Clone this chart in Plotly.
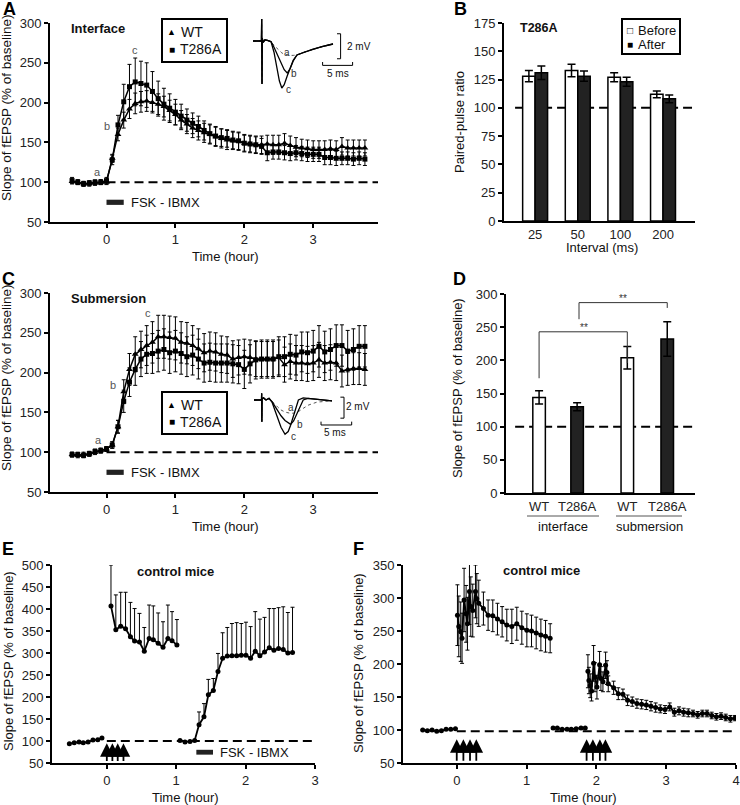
import plotly.graph_objects as go

# ======================= DATA =======================
TIME_AC = [round(-0.5 + i / 12, 4) for i in range(52)]

A_WT = [101, 100, 98, 98, 99, 100, 100,
        130, 160, 178, 192, 199, 201, 202, 200, 198, 195,
        190, 185, 178, 173, 168, 165, 162, 160, 157, 155,
        153, 152, 151, 149, 148, 147, 147, 148, 147, 147,
        149, 146, 144, 143, 142, 141, 141, 141, 142, 141,
        145, 143, 143, 143, 143]
A_WT_ERR = [3, 3, 3, 3, 3, 3, 3,
            5, 8, 10, 12, 13, 13, 13, 13, 13, 13,
            13, 13, 12, 12, 12, 12, 12, 12, 12, 12,
            12, 11, 11, 11, 11, 11, 11, 11, 12, 12,
            12, 12, 12, 11, 11, 11, 11, 11, 11, 11,
            11, 10, 10, 10, 10]
A_T286A = [102, 100, 98, 99, 100, 100, 102,
           128, 172, 201, 220, 226, 224, 222, 214, 205, 198,
           193, 188, 183, 178, 174, 170, 165, 161, 158, 156,
           155, 153, 152, 149, 148, 147, 145, 137, 138, 138,
           137, 136, 137, 136, 135, 135, 135, 131, 131, 130,
           130, 130, 129, 130, 129]
A_T286A_ERR = [4, 3, 3, 3, 3, 3, 4,
               6, 12, 22, 28, 30, 28, 28, 25, 22, 20,
               18, 16, 15, 14, 13, 13, 12, 12, 12, 11,
               11, 11, 11, 10, 10, 10, 10, 10, 9, 9,
               9, 9, 9, 9, 9, 9, 9, 9, 9, 9,
               8, 8, 8, 8, 8]

C_WT = [97, 96, 97, 98, 100, 102, 104,
        109, 132, 176, 204, 223, 229, 234, 238, 245, 245,
        244, 243, 238, 237, 234, 230, 225, 227, 226, 223,
        222, 217, 219, 220, 219, 217, 217, 217, 217, 219,
        210, 214, 212, 212, 211, 212, 216, 212, 213, 212,
        202, 204, 205, 205, 204]
C_WT_ERR = [3, 3, 3, 3, 3, 3, 3,
            4, 8, 15, 20, 22, 23, 25, 26, 27, 27,
            27, 27, 26, 26, 25, 25, 24, 24, 24, 23,
            23, 23, 22, 22, 22, 22, 22, 22, 22, 22,
            22, 22, 22, 22, 22, 22, 22, 22, 22, 22,
            20, 20, 20, 20, 20]
C_T286A = [97, 97, 96, 98, 101, 102, 104,
           109, 132, 164, 188, 204, 217, 223, 224, 227, 229,
           225, 227, 224, 220, 222, 217, 212, 213, 212, 212,
           212, 211, 210, 204, 211, 216, 217, 217, 217, 220,
           220, 223, 222, 226, 225, 227, 233, 226, 229, 234,
           234, 227, 229, 233, 233]
C_T286A_ERR = [3, 3, 3, 3, 3, 3, 3,
               4, 8, 14, 18, 20, 22, 24, 25, 26, 26,
               26, 26, 26, 25, 25, 25, 24, 24, 24, 24,
               24, 24, 24, 24, 24, 24, 24, 24, 24, 25,
               25, 25, 25, 25, 26, 26, 26, 26, 26, 26,
               26, 26, 26, 26, 26]

# inset waveforms (ms, mV)
INSET_A_T = [0, 1.4, 1.45, 1.5, 1.55, 1.7, 2.0, 2.4, 3.0, 3.5, 4.0, 4.4, 4.8,
             5.2, 5.7, 6.2, 6.7, 7.33, 8.5, 10, 11.5, 13.33]
INSET_A_a = [0, 0, 1.76, -3.44, 0.2, -0.1, 0.1, 0.05, -0.05, -0.35, -0.6, -0.8, -0.95,
             -1.05, -1.12, -1.15, -1.15, -1.12, -0.9, -0.65, -0.45, -0.24]
INSET_A_b = [0, 0, 1.76, -3.44, 0.2, -0.1, 0.1, 0.05, -0.05, -0.5, -1.0, -1.45, -1.9,
             -2.3, -2.56, -2.2, -1.6, -1.12, -0.9, -0.65, -0.45, -0.24]
INSET_A_c = [0, 0, 1.76, -3.44, 0.2, -0.1, 0.1, 0.05, -0.05, -0.9, -2.2, -3.2, -3.76,
             -3.5, -2.8, -2.1, -1.55, -1.12, -0.9, -0.65, -0.45, -0.24]

INSET_C_T = [0, 1.25, 1.28, 1.31, 1.35, 1.6, 2.0, 2.5, 3.0, 3.5, 4.0, 4.5, 5.17,
             5.7, 6.1, 6.6, 7.0, 7.4, 8.2, 9.0, 10.5, 13.0]
INSET_C_a = [0, 0, 0.63, -2.06, 0.1, 0.2, 0.0, 0.15, -0.1, -0.4, -0.7, -0.95, -1.15,
             -1.25, -1.27, -1.25, -1.2, -1.1, -0.8, -0.5, -0.2, -0.08]
INSET_C_b = [0, 0, 0.63, -2.06, 0.1, 0.2, 0.0, 0.15, -0.15, -0.6, -1.05, -1.5, -1.95,
             -2.2, -2.32, -2.0, -1.5, -1.0, 0.0, 0.15, 0.05, -0.08]
INSET_C_c = [0, 0, 0.63, -2.06, 0.1, 0.2, 0.0, 0.15, -0.2, -1.0, -1.9, -2.6, -3.27,
             -3.0, -2.4, -1.5, -0.7, 0.0, 0.2, 0.15, 0.05, -0.08]

B_INTERVALS = ['25', '50', '100', '200']
B_BEFORE = [128, 133, 127, 112]
B_BEFORE_ERR = [5, 5.5, 4, 3]
B_AFTER = [131, 128, 123, 108]
B_AFTER_ERR = [6, 4.5, 4, 3.4]

D_LABELS = ['WT', 'T286A', 'WT', 'T286A']
D_VALS = [144, 130, 204, 232]
D_ERR = [10, 6, 17, 26]

E_T1 = [-0.54, -0.47, -0.40, -0.34, -0.27, -0.20, -0.13, -0.07]
E_V1 = [94, 96, 98, 96, 98, 102, 103, 107]
E_T2 = [0.06, 0.13, 0.20, 0.27, 0.34, 0.40, 0.47, 0.54, 0.61, 0.67, 0.74, 0.81,
        0.88, 0.94, 1.01]
E_V2 = [407, 353, 361, 355, 337, 327, 325, 304, 333, 330, 322, 313, 333, 328, 318]
E_E2 = [93, 79, 77, 83, 78, 74, 65, 54, 76, 77, 69, 58, 76, 66, 58]
E_T3 = [1.055, 1.127, 1.199, 1.266, 1.329, 1.40, 1.463, 1.535, 1.602, 1.669,
        1.736, 1.803, 1.871, 1.938, 2.005, 2.072, 2.139, 2.206, 2.273, 2.341,
        2.408, 2.475, 2.542, 2.609, 2.676]
E_V3 = [101, 98, 99, 101, 137, 155, 205, 215, 258, 288, 293, 294, 294, 295, 295,
        288, 304, 294, 302, 312, 306, 310, 308, 300, 301]
E_E3 = [0, 0, 0, 0, 29, 30, 35, 27, 41, 58, 65, 73, 75, 72, 75, 72, 90, 83, 79,
        89, 95, 93, 97, 92, 103]
E_TETANUS = [0.0, 0.08, 0.157, 0.24]

F_T1 = [-0.488, -0.421, -0.354, -0.287, -0.220, -0.153, -0.086, -0.019]
F_V1 = [100, 99, 100, 98, 99, 101, 101, 102]
F_T2 = [0.010, 0.029, 0.057, 0.076, 0.105, 0.134, 0.153, 0.182, 0.201, 0.229,
        0.268, 0.287, 0.315, 0.382, 0.449, 0.516, 0.583, 0.650, 0.717, 0.789,
        0.860, 0.932, 1.004, 1.071, 1.138, 1.205, 1.272, 1.338]
F_V2 = [274, 257, 249, 239, 297, 276, 261, 310, 287, 281, 310, 299, 292, 284,
        274, 273, 268, 264, 259, 257, 261, 255, 251, 250, 247, 244, 242, 239]
F_E2 = [46, 46, 45, 38, 48, 43, 40, 50, 45, 40, 40, 38, 35, 25, 23, 24, 24, 23,
        24, 26, 25, 25, 25, 24, 24, 24, 24, 22]
F_T3 = [1.38, 1.44, 1.51, 1.58, 1.64, 1.71, 1.78, 1.84]
F_V3 = [103, 103, 101, 101, 101, 102, 103, 103]
F_T4 = [1.879, 1.893, 1.912, 1.931, 1.960, 1.979, 2.008, 2.046, 2.065, 2.094,
        2.132, 2.151, 2.170, 2.247, 2.314, 2.380, 2.447, 2.514, 2.581, 2.648,
        2.715, 2.782, 2.849, 2.916, 2.983, 3.050, 3.117, 3.184, 3.250, 3.317,
        3.384, 3.451, 3.518, 3.585, 3.652, 3.719, 3.786, 3.853, 3.920, 3.987]
F_V4 = [189, 175, 167, 159, 201, 180, 165, 199, 178, 173, 198, 187, 170,
        164, 155, 154, 145, 143, 140, 139, 138, 136, 134, 132, 131, 135, 127,
        129, 127, 126, 125, 123, 125, 125, 122, 120, 121, 119, 117, 118]
F_E4 = [25, 20, 18, 15, 27, 22, 18, 20, 18, 15, 20, 18, 12,
        10, 9, 8, 8, 7, 7, 7, 7, 7, 7, 6, 6, 6, 6, 6, 6, 6, 5, 5, 5, 5, 5, 5,
        5, 5, 5, 4]
F_TETANUS = [0.0, 0.095, 0.19, 0.28, 1.86, 1.95, 2.05, 2.13]

# ======================= LAYOUT HELPERS =======================
W, H = 740, 805
FONT = "Arial, 'Liberation Sans', Helvetica, sans-serif"
DARK = '#222222'


def px(x):
    return x / W


def py(y):
    return 1 - y / H


def ax(domain, rng, anchor, **kw):
    d = dict(domain=domain, range=rng, anchor=anchor, showline=True,
             linecolor='black', linewidth=2, ticks='outside', ticklen=4,
             tickwidth=2, tickcolor='black', showgrid=False, zeroline=False,
             tickfont=dict(size=13, color='#222', family=FONT),
             automargin=False, fixedrange=True)
    d.update(kw)
    return d


fig = go.Figure()


def series(x, y, err, xa, ya, symbol, size, errminus=None, lw=1.5):
    e = dict(type='data', array=err, color='black', thickness=1, width=2,
             visible=True)
    if errminus is not None:
        e['symmetric'] = False
        e['arrayminus'] = errminus
    fig.add_trace(go.Scatter(
        x=x, y=y, xaxis=xa, yaxis=ya, mode='lines+markers',
        line=dict(color='black', width=lw),
        marker=dict(symbol=symbol, size=size, color='black'),
        error_y=e, showlegend=False, hoverinfo='skip'))


# ---- Panel A
series(TIME_AC, A_WT, A_WT_ERR, 'x', 'y', 'triangle-up', 6)
series(TIME_AC, A_T286A, A_T286A_ERR, 'x', 'y', 'square', 5)
# ---- Panel C
series(TIME_AC, C_WT, C_WT_ERR, 'x3', 'y3', 'triangle-up', 6)
series(TIME_AC, C_T286A, C_T286A_ERR, 'x3', 'y3', 'square', 5)

# ---- insets
for (t, tr, xa, ya) in [(INSET_A_T, INSET_A_a, 'x7', 'y7'), (INSET_A_T, INSET_A_b, 'x7', 'y7'),
                        (INSET_A_T, INSET_A_c, 'x7', 'y7'), (INSET_C_T, INSET_C_a, 'x8', 'y8'),
                        (INSET_C_T, INSET_C_b, 'x8', 'y8'), (INSET_C_T, INSET_C_c, 'x8', 'y8')]:
    dotted = tr is INSET_A_a or tr is INSET_C_a
    fig.add_trace(go.Scatter(
        x=t, y=tr, xaxis=xa, yaxis=ya, mode='lines',
        line=dict(color='#555' if dotted else 'black', width=1 if dotted else 1.3,
                  dash='dot' if dotted else 'solid'),
        showlegend=False, hoverinfo='skip'))

# ---- Panel B
fig.add_trace(go.Bar(x=B_INTERVALS, y=B_BEFORE, xaxis='x2', yaxis='y2',
                     marker=dict(color='white', line=dict(color='black', width=1.5)),
                     error_y=dict(type='data', array=B_BEFORE_ERR, color='black',
                                  thickness=1.5, width=4),
                     showlegend=False, hoverinfo='skip'))
fig.add_trace(go.Bar(x=B_INTERVALS, y=B_AFTER, xaxis='x2', yaxis='y2',
                     marker=dict(color=DARK, line=dict(color='black', width=1.5)),
                     error_y=dict(type='data', array=B_AFTER_ERR, color='black',
                                  thickness=1.5, width=4),
                     showlegend=False, hoverinfo='skip'))

# ---- Panel D
D_XPOS = [0, 1, 2.32, 3.37]
fig.add_trace(go.Bar(x=D_XPOS, y=D_VALS, xaxis='x4', yaxis='y4', width=0.33,
                     marker=dict(color=['white', DARK, 'white', DARK],
                                 line=dict(color='black', width=1.5)),
                     error_y=dict(type='data', array=D_ERR, color='black',
                                  thickness=1.5, width=4),
                     showlegend=False, hoverinfo='skip'))

# ---- Panel E
for t, v, e in [(E_T1, E_V1, [0] * len(E_V1)), (E_T2, E_V2, E_E2), (E_T3, E_V3, E_E3)]:
    series(t, v, e, 'x5', 'y5', 'circle', 5, errminus=[0] * len(v), lw=1.8)

# ---- Panel F
for t, v, e in [(F_T1, F_V1, [0] * len(F_V1)), (F_T2, F_V2, F_E2),
                (F_T3, F_V3, [0] * len(F_V3)), (F_T4, F_V4, F_E4)]:
    series(t, v, e, 'x6', 'y6', 'circle', 5, lw=1.8)

# ======================= SHAPES =======================
DASH = dict(color='black', width=2, dash='9px,5px')


def prect(x0, y0, x1, y1):
    return dict(type='rect', xref='paper', yref='paper', x0=px(x0), x1=px(x1),
                y0=py(y1), y1=py(y0), line=dict(color='black', width=2),
                fillcolor='rgba(0,0,0,0)')


shapes = [
    dict(type='line', xref='x', yref='y', x0=0, x1=3.94, y0=100, y1=100, line=DASH, layer='below'),
    dict(type='line', xref='x3', yref='y3', x0=0, x1=3.94, y0=100, y1=100, line=DASH, layer='below'),
    dict(type='line', xref='x5', yref='y5', x0=0, x1=3.0, y0=100, y1=100, line=DASH, layer='below'),
    dict(type='line', xref='x6', yref='y6', x0=0, x1=4.0, y0=98, y1=98, line=DASH, layer='below'),
    dict(type='line', xref='x2', yref='y2', x0=-0.47, x1=3.68, y0=100, y1=100, line=DASH, layer='below'),
    dict(type='line', xref='x4', yref='y4', x0=-0.63, x1=4.03, y0=100, y1=100, line=DASH, layer='below'),
    # drug application bars
    dict(type='rect', xref='x', yref='y', x0=0, x1=0.25, y0=71.5, y1=78,
         fillcolor=DARK, line=dict(width=0)),
    dict(type='rect', xref='x3', yref='y3', x0=0, x1=0.25, y0=71.5, y1=78,
         fillcolor=DARK, line=dict(width=0)),
    dict(type='rect', xref='x5', yref='y5', x0=1.29, x1=1.53, y0=69, y1=80,
         fillcolor=DARK, line=dict(width=0)),
    # D significance brackets
    dict(type='path', xref='x4', yref='y4', path='M 0,173 L 0,243 L 2.32,243 L 2.32,196',
         line=dict(color='#333', width=1)),
    dict(type='path', xref='x4', yref='y4', path='M 1.05,262 L 1.05,287 L 3.37,287 L 3.37,279',
         line=dict(color='#333', width=1)),
    # D group underlines
    dict(type='line', xref='paper', yref='paper', x0=px(527), x1=px(599), y0=py(516), y1=py(516),
         line=dict(color='#555', width=1)),
    dict(type='line', xref='paper', yref='paper', x0=px(616), x1=px(682), y0=py(516), y1=py(516),
         line=dict(color='#555', width=1)),
    # inset A scale bars
    dict(type='path', xref='x7', yref='y7', path='M 14.0,0.58 L 14.6,0.58 L 14.6,-1.42 L 14.0,-1.42',
         line=dict(color='black', width=1)),
    dict(type='path', xref='x7', yref='y7', path='M 11.6,-1.68 L 11.6,-1.95 L 16.6,-1.95 L 16.6,-1.68',
         line=dict(color='black', width=1)),
    # inset C scale bars
    dict(type='path', xref='x8', yref='y8', path='M 14.4,0.27 L 15.0,0.27 L 15.0,-1.73 L 14.4,-1.73',
         line=dict(color='black', width=1)),
    dict(type='path', xref='x8', yref='y8', path='M 11.17,-2.06 L 11.17,-2.38 L 16.28,-2.38 L 16.28,-2.06',
         line=dict(color='black', width=1)),
    # legend boxes
    prect(162, 19, 227, 62),
    prect(162, 392, 227, 434),
    prect(622, 19, 680, 54),
]

# ======================= ANNOTATIONS =======================
ann = []


def T(text, x, y, size=13, bold=False, xanchor='center', yanchor='middle',
      angle=0, color='#111', xref='paper', yref='paper', **kw):
    if xref == 'paper':
        x, y = px(x), py(y)
    d = dict(text=('<b>%s</b>' % text) if bold else text, x=x, y=y, xref=xref, yref=yref,
             xanchor=xanchor, yanchor=yanchor, textangle=angle, showarrow=False,
             font=dict(size=size, color=color, family=FONT))
    d.update(kw)
    ann.append(d)


# panel letters
for L, x, y in [('A', 9, 9), ('B', 460, 9), ('C', 8, 279), ('D', 459, 279), ('E', 8, 549), ('F', 358, 549)]:
    T(L, x, y, size=18, bold=True, color='black')

YT = 'Slope of fEPSP (% of baseline)'
T(YT, 7, 108, size=13.5, angle=-90)
T(YT, 7, 378, size=13.5, angle=-90)
T(YT, 8, 661, size=13, angle=-90)
T(YT, 358, 663, size=13, angle=-90)
T(YT, 457, 388, size=13, angle=-90)
T('Paired-pulse ratio', 459, 122, size=13, angle=-90)

T('Time (hour)', 225, 256, size=13)
T('Time (hour)', 225, 526, size=13)
T('Time (hour)', 185, 797, size=13)
T('Time (hour)', 583, 797, size=13)
T('Interval (ms)', 602, 248, size=13)

T('Interface', 69, 28, size=13, bold=True, xanchor='left')
T('Submersion', 69, 298, size=13, bold=True, xanchor='left')
T('T286A', 518, 28, size=12.5, bold=True, xanchor='left')
T('control mice', 175, 571, size=13, bold=True)
T('control mice', 541, 570, size=13, bold=True)

T('interface', 563, 526, size=13)
T('submersion', 649, 526, size=13)

# legends (text inside the boxes drawn as shapes)
for y1, y2 in [(31.7, 49.3), (405, 421.7)]:
    T('▲', 171.5, y1, size=9, color='black')
    T('■', 171.5, y2, size=10, color='black')
    T('WT', 179, y1, size=14, xanchor='left')
    T('T286A', 178, y2, size=14, xanchor='left')
T('□', 630, 31, size=10, color='black')
T('■', 630, 45, size=10, color='black')
T('Before', 635.5, 31, size=13, xanchor='left')
T('After', 635.5, 45, size=13, xanchor='left')

# panel A / C labels a, b, c and drug labels
for xr, yr, pts in [('x', 'y', [('a', -0.13, 113), ('b', 0.01, 171), ('c', 0.42, 266)]),
                    ('x3', 'y3', [('a', -0.115, 115), ('b', 0.10, 184), ('c', 0.60, 275)])]:
    for s, x, y in pts:
        T(s, x, y, size=11, color='#555', xref=xr, yref=yr)
T('FSK - IBMX', 0.33, 75, size=13, xanchor='left', xref='x', yref='y')
T('FSK - IBMX', 0.33, 75, size=13, xanchor='left', xref='x3', yref='y3')
T('FSK - IBMX', 1.6, 74, size=13, xanchor='left', xref='x5', yref='y5')

# inset labels
for s, x, y in [('a', 5.6, -0.94), ('b', 6.8, -2.6), ('c', 5.9, -3.86)]:
    T(s, x, y, size=10, color='#333', xref='x7', yref='y7')
T('2 mV', 15.3, -0.48, size=10, xanchor='left', xref='x7', yref='y7')
T('5 ms', 14.1, -2.6, size=10, xref='x7', yref='y7')
for s, x, y in [('a', 6.1, -0.73), ('b', 7.67, -2.32), ('c', 6.55, -3.5)]:
    T(s, x, y, size=10, color='#333', xref='x8', yref='y8')
T('2 mV', 15.0, -0.63, size=10, xanchor='left', xref='x8', yref='y8')
T('5 ms', 13.5, -3.08, size=10, xref='x8', yref='y8')

# D significance stars
T('**', 1.18, 250, size=10, color='#333', xref='x4', yref='y4')
T('**', 2.2, 293, size=10, color='#333', xref='x4', yref='y4')

# tetanus arrows
for t in E_TETANUS:
    ann.append(dict(x=t, y=95, ax=t, ay=51, xref='x5', yref='y5', axref='x5', ayref='y5',
                    showarrow=True, arrowhead=2, arrowsize=1.5, arrowwidth=1.8,
                    arrowcolor='black', text=''))
for t in F_TETANUS:
    ann.append(dict(x=t, y=86, ax=t, ay=51, xref='x6', yref='y6', axref='x6', ayref='y6',
                    showarrow=True, arrowhead=2, arrowsize=1.5, arrowwidth=1.8,
                    arrowcolor='black', text=''))

# ======================= AXES =======================
layout = dict(
    width=W, height=H, margin=dict(l=0, r=0, t=0, b=0),
    paper_bgcolor='white', plot_bgcolor='rgba(0,0,0,0)',
    font=dict(family=FONT, color='#111'),
    barmode='group', bargap=0.415, bargroupgap=0,
    shapes=shapes, annotations=ann, showlegend=False,
    xaxis=ax([px(50), px(378)], [-0.82, 3.94], 'y', tickvals=[0, 1, 2, 3]),
    yaxis=ax([py(222), py(23)], [50, 300], 'x', tickvals=[50, 100, 150, 200, 250, 300]),
    xaxis2=ax([px(504), px(695)], [-0.73, 3.75], 'y2', type='category', ticks=''),
    yaxis2=ax([py(221), py(23)], [0, 175], 'x2', tickvals=[0, 25, 50, 75, 100, 125, 150, 175]),
    xaxis3=ax([px(50), px(378)], [-0.82, 3.94], 'y3', tickvals=[0, 1, 2, 3]),
    yaxis3=ax([py(492), py(293)], [50, 300], 'x3', tickvals=[50, 100, 150, 200, 250, 300]),
    xaxis4=ax([px(506), px(695)], [-0.87, 4.1], 'y4', tickvals=D_XPOS, ticktext=D_LABELS, ticks=''),
    yaxis4=ax([py(493), py(294)], [0, 300], 'x4', tickvals=[0, 50, 100, 150, 200, 250, 300]),
    xaxis5=ax([px(52), px(315)], [-0.79, 3.0], 'y5', tickvals=[0, 1, 2, 3]),
    yaxis5=ax([py(763), py(565)], [50, 500], 'x5',
              tickvals=[50, 100, 150, 200, 250, 300, 350, 400, 450, 500]),
    xaxis6=ax([px(403), px(736)], [-0.77, 4.0], 'y6', tickvals=[0, 1, 2, 3, 4]),
    yaxis6=ax([py(763), py(565)], [50, 350], 'x6', tickvals=[50, 100, 150, 200, 250, 300, 350]),
    xaxis7=dict(domain=[px(253), px(370)], range=[0, 19.5], anchor='y7', visible=False, fixedrange=True),
    yaxis7=dict(domain=[py(91), py(16)], range=[-4.0, 2.0], anchor='x7', visible=False, fixedrange=True),
    xaxis8=dict(domain=[px(254), px(371)], range=[0, 19.5], anchor='y8', visible=False, fixedrange=True),
    yaxis8=dict(domain=[py(439.9), py(384.25)], range=[-3.8, 1.5], anchor='x8', visible=False, fixedrange=True),
)
fig.update_layout(**layout)
fig.write_html("out.html", config={'displayModeBar': False},
               post_script="document.body.style.margin='0';")
